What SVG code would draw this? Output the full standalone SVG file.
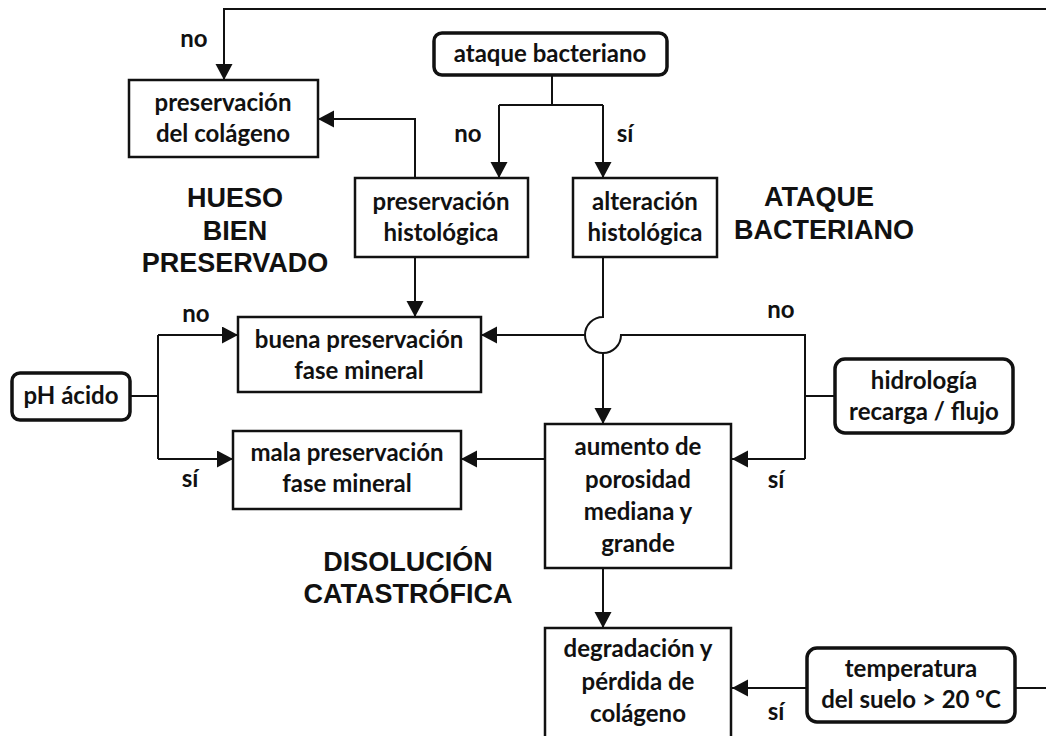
<svg xmlns="http://www.w3.org/2000/svg" width="1046" height="736" viewBox="0 0 1046 736">
<style>
.box{fill:#fff;stroke:#111;stroke-width:2.5}
.rbox{fill:#fff;stroke:#111;stroke-width:3.5}
.t{font-family:Lato,"Open Sans","Liberation Sans",sans-serif;font-weight:bold;font-size:24px;fill:#111;text-anchor:middle}
.h{font-family:"Liberation Sans",Arial,sans-serif;font-weight:bold;font-size:27px;fill:#111;text-anchor:middle}
.c{fill:none;stroke:#111;stroke-width:2}
.a{marker-end:url(#arr)}
</style>
<defs>
<marker id="arr" markerUnits="userSpaceOnUse" markerWidth="17" markerHeight="18" refX="16" refY="8.5" orient="auto">
<path d="M0,0 L16,8.5 L0,17 Z" fill="#111"/>
</marker>
</defs>
<rect width="1046" height="736" fill="#fff"/>
<g id="connectors">
<path class="c a" d="M1015,688 H1060 V9 H224 V80"/>
<path class="c" d="M552,75 V105 M499,105 H603"/>
<path class="c a" d="M499,105 V178"/>
<path class="c a" d="M603,105 V178"/>
<path class="c a" d="M415,178 V119 H318"/>
<path class="c a" d="M415,257 V317"/>
<path class="c" d="M603,257 V317 A18,18 0 1 0 621,335 H805 V459"/>
<path class="c a" d="M805,459 H732"/>
<path class="c a" d="M585,335 H481"/>
<path class="c a" d="M603,353 V424"/>
<path class="c" d="M835,396 H805"/>
<path class="c" d="M130,396 H158 M158,335 V459"/>
<path class="c a" d="M158,335 H238"/>
<path class="c a" d="M158,459 H233"/>
<path class="c a" d="M545,459 H461"/>
<path class="c a" d="M603,568 V628"/>
<path class="c a" d="M807,688 H732"/>
</g>
<g id="labels">
<text class="t" x="194" y="47">no</text>
<text class="t" x="468" y="142">no</text>
<text class="t" x="625" y="142">sí</text>
<text class="t" x="196" y="322">no</text>
<text class="t" x="781" y="318">no</text>
<text class="t" x="190" y="487">sí</text>
<text class="t" x="776" y="488">sí</text>
<text class="t" x="776" y="720">sí</text>
</g>
<g id="sections">
<text class="h" x="235" y="207">HUESO</text>
<text class="h" x="235" y="240">BIEN</text>
<text class="h" x="235" y="272">PRESERVADO</text>
<text class="h" x="819" y="206">ATAQUE</text>
<text class="h" x="824" y="239">BACTERIANO</text>
<text class="h" x="408" y="571">DISOLUCIÓN</text>
<text class="h" x="408" y="603">CATASTRÓFICA</text>
</g>
<g id="n-colageno">
<rect class="box" x="129" y="80" width="189" height="77"/>
<text class="t" x="223" y="111">preservación</text>
<text class="t" x="223" y="142">del colágeno</text>
</g>
<g id="n-ataque">
<rect class="rbox" x="434" y="33" width="233" height="42" rx="8"/>
<text class="t" x="550" y="62">ataque bacteriano</text>
</g>
<g id="n-preshist">
<rect class="box" x="355" y="178" width="173" height="79"/>
<text class="t" x="441" y="210">preservación</text>
<text class="t" x="441" y="241">histológica</text>
</g>
<g id="n-althist">
<rect class="box" x="573" y="178" width="144" height="79"/>
<text class="t" x="645" y="210">alteración</text>
<text class="t" x="645" y="241">histológica</text>
</g>
<g id="n-buena">
<rect class="box" x="238" y="317" width="243" height="75"/>
<text class="t" x="359" y="348">buena preservación</text>
<text class="t" x="359" y="379">fase mineral</text>
</g>
<g id="n-ph">
<rect class="rbox" x="12" y="373" width="118" height="47" rx="8"/>
<text class="t" x="71" y="404">pH ácido</text>
</g>
<g id="n-mala">
<rect class="box" x="233" y="431" width="228" height="78"/>
<text class="t" x="347" y="461">mala preservación</text>
<text class="t" x="347" y="492">fase mineral</text>
</g>
<g id="n-aumento">
<rect class="box" x="545" y="424" width="186" height="144"/>
<text class="t" x="638" y="455">aumento de</text>
<text class="t" x="638" y="488">porosidad</text>
<text class="t" x="638" y="520">mediana y</text>
<text class="t" x="638" y="552">grande</text>
</g>
<g id="n-hidro">
<rect class="rbox" x="835" y="359" width="178" height="74" rx="10"/>
<text class="t" x="924" y="389">hidrología</text>
<text class="t" x="924" y="420">recarga / flujo</text>
</g>
<g id="n-degradacion">
<rect class="box" x="545" y="628" width="186" height="130"/>
<text class="t" x="638" y="657">degradación y</text>
<text class="t" x="638" y="690">pérdida de</text>
<text class="t" x="638" y="722">colágeno</text>
</g>
<g id="n-temp">
<rect class="rbox" x="807" y="648" width="208" height="74" rx="10"/>
<text class="t" x="911" y="677">temperatura</text>
<text class="t" x="911" y="708">del suelo &gt; 20 ºC</text>
</g>
</svg>
